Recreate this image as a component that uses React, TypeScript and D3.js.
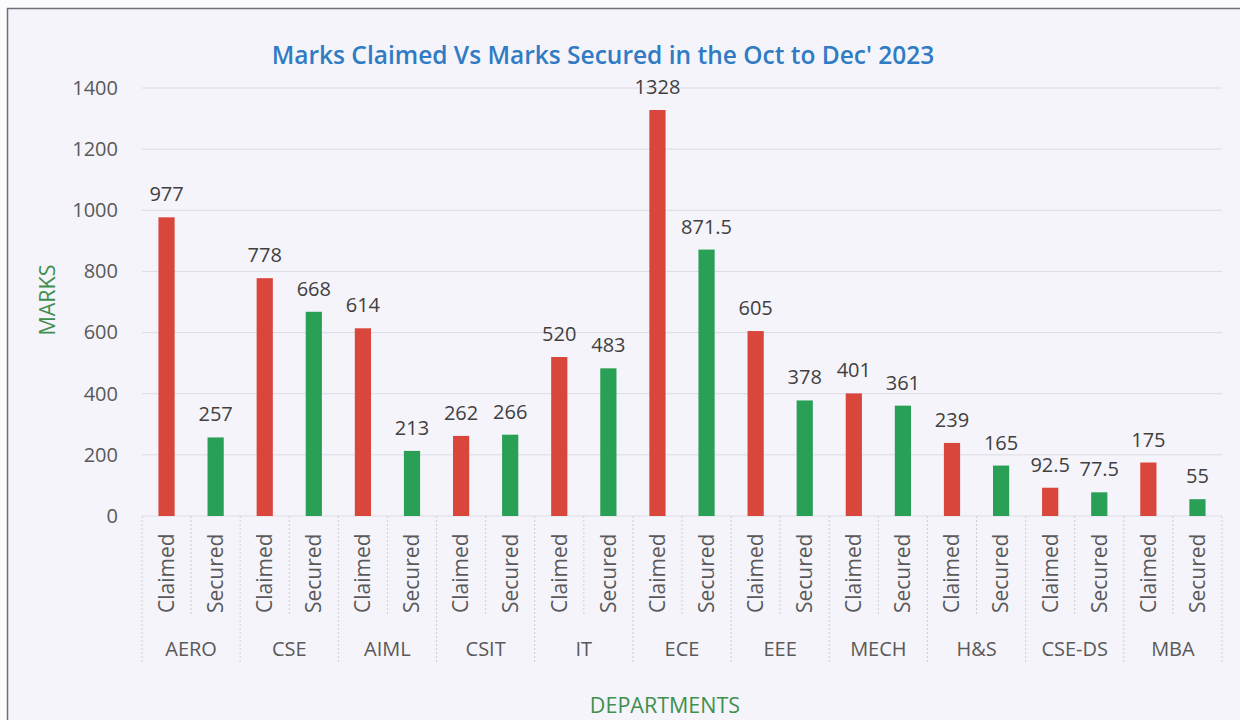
import React, { useEffect, useRef } from 'react'
import * as d3 from 'd3'

const departments = ['AERO', 'CSE', 'AIML', 'CSIT', 'IT', 'ECE', 'EEE', 'MECH', 'H&S', 'CSE-DS', 'MBA']
const seriesNames = ['Claimed', 'Secured']
const claimed = [977, 778, 614, 262, 520, 1328, 605, 401, 239, 92.5, 175]
const secured = [257, 668, 213, 266, 483, 871.5, 378, 361, 165, 77.5, 55]
const yTicks = [0, 200, 400, 600, 800, 1000, 1200, 1400]

const colors: Record<string, string> = { Claimed: '#d8463c', Secured: '#2a9f56' }
const font = '"Open Sans", Lato, sans-serif'

const App = () => {
  const svgRef = useRef(null)

  useEffect(() => {
    if (!svgRef.current) return
    const svg = d3.select(svgRef.current)
    svg.selectAll('*').remove()

    const width = 1240
    const height = 720
    const plot = { left: 142, right: 1222, top: 88, bottom: 516 }

    svg.attr('width', width).attr('height', height)

    // page and chart frame
    svg.append('rect').attr('width', width).attr('height', height).attr('fill', '#fbfbfd')
    svg
      .append('rect')
      .attr('x', 7.5)
      .attr('y', 8.5)
      .attr('width', width + 10)
      .attr('height', height + 10)
      .attr('fill', '#f5f4fb')
      .attr('stroke', '#6f6f78')
      .attr('stroke-width', 1.5)

    const x = d3.scaleBand().domain(departments).range([plot.left, plot.right]).padding(0)
    const xSub = d3.scaleBand().domain(seriesNames).range([0, x.bandwidth()]).padding(0)
    const y = d3.scaleLinear().domain([0, 1400]).range([plot.bottom, plot.top])
    const barW = xSub.bandwidth() * 0.33

    // gridlines
    svg
      .append('g')
      .selectAll('line')
      .data(yTicks)
      .join('line')
      .attr('x1', plot.left)
      .attr('x2', plot.right)
      .attr('y1', (d) => y(d))
      .attr('y2', (d) => y(d))
      .attr('stroke', '#dcdbe5')
      .attr('stroke-width', 1)

    // y axis labels
    const yAxis = d3.axisLeft(y).tickValues(yTicks).tickFormat(d3.format('d')).tickSize(0).tickPadding(24)
    svg
      .append('g')
      .attr('transform', `translate(${plot.left},0)`)
      .call(yAxis)
      .call((g) => g.select('.domain').remove())
      .call((g) =>
        g.selectAll('text').attr('font-family', font).attr('font-size', 20).attr('fill', '#595959')
      )

    // category dividers
    const divs = svg.append('g').attr('stroke', '#cfced8').attr('stroke-dasharray', '2,2')
    departments.forEach((d, i) => {
      const x0 = x(d) as number
      divs
        .append('line')
        .attr('x1', x0)
        .attr('x2', x0)
        .attr('y1', plot.bottom)
        .attr('y2', 662)
      divs
        .append('line')
        .attr('x1', x0 + x.bandwidth() / 2)
        .attr('x2', x0 + x.bandwidth() / 2)
        .attr('y1', plot.bottom)
        .attr('y2', 615)
      if (i === departments.length - 1) {
        divs
          .append('line')
          .attr('x1', x0 + x.bandwidth())
          .attr('x2', x0 + x.bandwidth())
          .attr('y1', plot.bottom)
          .attr('y2', 662)
      }
    })

    const rows = departments.flatMap((d, i) => [
      { dept: d, series: 'Claimed', value: claimed[i] },
      { dept: d, series: 'Secured', value: secured[i] },
    ])
    const cx = (r: { dept: string; series: string }) =>
      (x(r.dept) as number) + (xSub(r.series) as number) + xSub.bandwidth() / 2

    // bars
    svg
      .append('g')
      .selectAll('rect')
      .data(rows)
      .join('rect')
      .attr('x', (r) => cx(r) - barW / 2)
      .attr('y', (r) => y(r.value))
      .attr('width', barW)
      .attr('height', (r) => plot.bottom - y(r.value))
      .attr('fill', (r) => colors[r.series])

    // value labels
    svg
      .append('g')
      .selectAll('text')
      .data(rows)
      .join('text')
      .attr('x', (r) => cx(r))
      .attr('y', (r) => y(r.value) - 16)
      .attr('text-anchor', 'middle')
      .attr('font-family', font)
      .attr('font-size', 20)
      .attr('fill', '#404040')
      .text((r) => String(r.value))

    // sub labels (rotated)
    svg
      .append('g')
      .selectAll('text')
      .data(rows)
      .join('text')
      .attr('transform', (r) => `translate(${cx(r)},613) rotate(-90)`)
      .attr('dy', '0.35em')
      .attr('text-anchor', 'start')
      .attr('font-family', font)
      .attr('font-size', 21)
      .attr('fill', '#595959')
      .text((r) => r.series)

    // department labels
    svg
      .append('g')
      .selectAll('text')
      .data(departments)
      .join('text')
      .attr('x', (d) => (x(d) as number) + x.bandwidth() / 2)
      .attr('y', 656)
      .attr('text-anchor', 'middle')
      .attr('font-family', font)
      .attr('font-size', 20)
      .attr('fill', '#595959')
      .text((d) => d)

    // title
    svg
      .append('text')
      .attr('x', 603)
      .attr('y', 64)
      .attr('text-anchor', 'middle')
      .attr('font-family', font)
      .attr('font-size', 24.5)
      .attr('font-weight', 600)
      .attr('fill', '#2f7bc4')
      .text("Marks Claimed Vs Marks Secured in the Oct to Dec' 2023")

    // axis titles
    svg
      .append('text')
      .attr('transform', 'translate(47,300) rotate(-90)')
      .attr('dy', '0.35em')
      .attr('text-anchor', 'middle')
      .attr('font-family', font)
      .attr('font-size', 21.5)
      .attr('fill', '#3f8f4f')
      .text('MARKS')

    svg
      .append('text')
      .attr('x', 665)
      .attr('y', 713)
      .attr('text-anchor', 'middle')
      .attr('font-family', font)
      .attr('font-size', 21.5)
      .attr('fill', '#3f8f4f')
      .text('DEPARTMENTS')
  }, [])

  return <svg ref={svgRef} style={{ position: 'absolute', left: 0, top: 0 }}></svg>
}

export default App
